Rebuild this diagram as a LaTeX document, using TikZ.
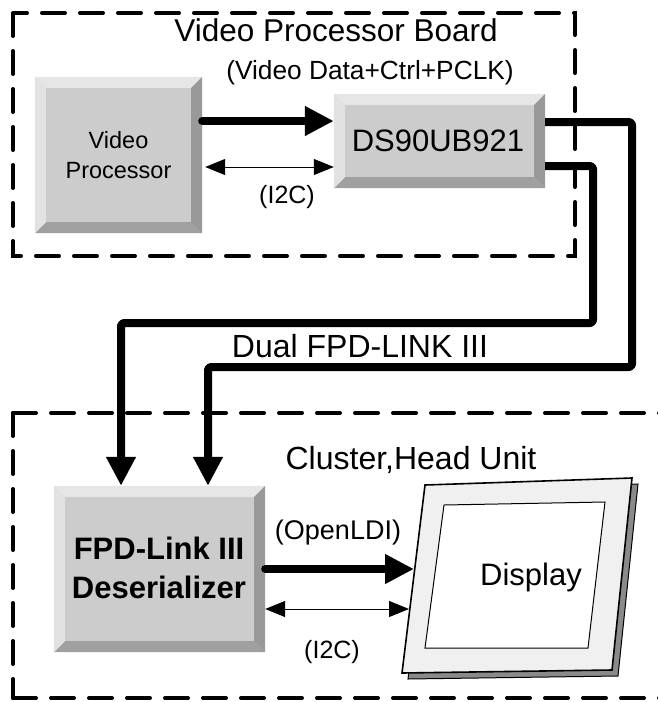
\documentclass[tikz,border=0pt]{standalone}
\usepackage{fontspec}
\setmainfont{Liberation Sans}
\usetikzlibrary{arrows.meta}
\definecolor{boxgray}{HTML}{CCCCCC}
\definecolor{bevtop}{HTML}{E6E6E6}
\definecolor{bevleft}{HTML}{E2E2E2}
\definecolor{bevright}{HTML}{999999}
\definecolor{bevbottom}{HTML}{A0A0A0}
\definecolor{screengray}{HTML}{F0F0F0}
\definecolor{shadowgray}{HTML}{8A8A8A}
\newcommand\bevelize[1]{%
  \fill[bevtop] (#1.north west) -- (#1.north east) -- ([xshift=-11pt,yshift=-11pt]#1.north east) -- ([xshift=11pt,yshift=-11pt]#1.north west) -- cycle;
  \fill[bevbottom] (#1.south west) -- (#1.south east) -- ([xshift=-11pt,yshift=11pt]#1.south east) -- ([xshift=11pt,yshift=11pt]#1.south west) -- cycle;
  \fill[bevleft] (#1.north west) -- (#1.south west) -- ([xshift=11pt,yshift=11pt]#1.south west) -- ([xshift=11pt,yshift=-11pt]#1.north west) -- cycle;
  \fill[bevright] (#1.north east) -- (#1.south east) -- ([xshift=-11pt,yshift=11pt]#1.south east) -- ([xshift=-11pt,yshift=-11pt]#1.north east) -- cycle;
}
\begin{document}
\begin{tikzpicture}[x=1pt,y=-1pt,
  board/.style={line width=4pt, dash pattern=on 23pt off 15pt, line cap=round},
  bbox/.style={rectangle, fill=boxgray, inner sep=0pt, align=center},
  fatarrow/.style={line width=8pt, line cap=round, line join=round, -{Triangle[length=29pt,width=28pt]}},
  fatline/.style={line width=8pt, line join=round, rounded corners=3pt, -{Triangle[length=29pt,width=28pt]}},
  thinarrow/.style={line width=1pt, {Triangle[length=20pt,width=16pt]}-{Triangle[length=20pt,width=16pt]}},
  lbl/.style={inner sep=0pt, font=\fontsize{25}{30}\selectfont},
]
\useasboundingbox (0,0) rectangle (658,702);
\begin{scope}
\clip (0,0) rectangle (658,702);
% boards
\draw[board] (13,13) rectangle (575,256);
\draw[board] (13,413) -- (700,413);
\draw[board] (13,413) -- (13,698);
\draw[board] (13,698) -- (700,698);
\end{scope}
\node[lbl, font=\fontsize{31.5}{37}\selectfont] (title1) at (336,30) {Video Processor Board};
\node[lbl, font=\fontsize{26.3}{31}\selectfont] (datalbl) at (370,73) {(Video Data+Ctrl+PCLK)};

% boxes
\node[bbox, minimum width=167pt, minimum height=156pt] (vp) at (118.5,155) {};
\bevelize{vp}
\node[inner sep=0pt, align=center, font=\fontsize{23.5}{30}\selectfont] (vpt) at (vp.center) {Video\\Processor};
\node[bbox, minimum width=211pt, minimum height=94pt] (ds) at (439.5,141) {};
\bevelize{ds}
\node[inner sep=0pt, font=\fontsize{31}{37}\selectfont] (dst) at (438,141) {DS90UB921};
\node[bbox, minimum width=211pt, minimum height=166pt] (des) at (159.5,569) {};
\bevelize{des}
\node[inner sep=0pt, align=center, font=\bfseries\fontsize{31}{39}\selectfont] (dest) at (159,568) {FPD-Link III\\Deserializer};

% display
\filldraw[fill=shadowgray, draw=black, line width=1pt] (431,491) -- (638,484) -- (618,676) -- (408,679) -- cycle;
\filldraw[fill=screengray, draw=black, line width=1.6pt] (425,485) -- (632,478) -- (612,670) -- (402,673) -- cycle;
\filldraw[fill=white, draw=black, line width=1pt] (444,505) -- (605,502) -- (588,648) -- (425,648) -- cycle;
\node[inner sep=0pt, font=\fontsize{31}{37}\selectfont] (disp) at (531,577) {Display};
\coordinate (dispA) at (414,569);
\coordinate (dispB) at (409,609);

% top connectors
\draw[fatarrow] ([yshift=34pt]vp.east) -- ([yshift=20pt]ds.west);
\draw[thinarrow] ([xshift=3pt,yshift=-12pt]vp.east) -- ([yshift=-26pt]ds.west);
\node[lbl] (i2ca) at (287,197) {(I2C)};

% FPD-Link lines
\draw[fatline] ([yshift=19pt]ds.east) -- (632,122) -- (632,367) -- (208,367) -- ([xshift=48.5pt]des.north);
\draw[fatline] ([yshift=-25pt]ds.east) -- (593,166) -- (593,323) -- (121,323) -- ([xshift=-38.5pt]des.north);
\node[lbl, font=\fontsize{32}{38}\selectfont] (dual) at (360,346) {Dual FPD-LINK III};
\node[lbl, font=\fontsize{32}{38}\selectfont] (cluster) at (411,460) {Cluster,Head Unit};

% bottom connectors
\draw[fatarrow] (des.east) -- (dispA);
\draw[thinarrow] ([yshift=-40pt]des.east) -- (dispB);
\node[lbl, font=\fontsize{27}{32}\selectfont] (oldi) at (338,533) {(OpenLDI)};
\node[lbl] (i2cb) at (332,652) {(I2C)};
\end{tikzpicture}
\end{document}
